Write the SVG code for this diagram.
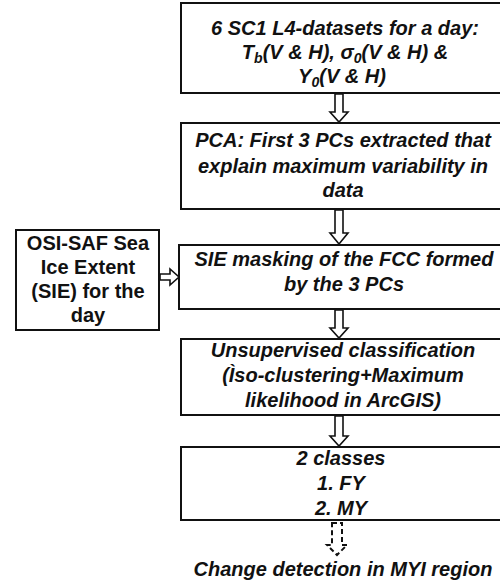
<svg xmlns="http://www.w3.org/2000/svg" width="500" height="582" viewBox="0 0 500 582">
<style>
.box{fill:#fff;stroke:#111;stroke-width:2}
.t{font-family:"Liberation Sans",Arial,sans-serif;font-weight:bold;font-style:italic;font-size:20px;fill:#111;text-anchor:middle}
.tl{font-family:"Liberation Sans",Arial,sans-serif;font-weight:bold;font-size:20px;fill:#111;text-anchor:middle}
.arr{fill:#fff;stroke:#111;stroke-width:1.6;stroke-linejoin:miter}
.dash{fill:#fff;stroke:#111;stroke-width:2;stroke-dasharray:5 3}
</style>
<rect width="500" height="582" fill="#fff"/>
<g id="connectors">
<polygon class="arr" points="335,94 343,94 343,112 348,112 339,122 330,112 335,112"/>
<polygon class="arr" points="335,210 343,210 343,233 348,233 339,244 330,233 335,233"/>
<polygon class="arr" points="335,310 343,310 343,328 348,328 339,338 330,328 335,328"/>
<polygon class="arr" points="335,416 343,416 343,436 348,436 339,446 330,436 335,436"/>
<polygon class="dash" points="332,523 342,523 342,545 347,545 337,555 327,545 332,545"/>
<polygon class="arr" points="160,274 170,274 170,269 179,277 170,285 170,280 160,280"/>
</g>
<g id="n1">
<rect class="box" x="181" y="3" width="330" height="90"/>
<text class="t" x="345" y="35">6 SC1 L4-datasets for a day:</text>
<text class="t" x="345" y="59">T<tspan font-size="14" dy="4">b</tspan><tspan dy="-4">(V &amp; H), σ</tspan><tspan font-size="14" dy="4">0</tspan><tspan dy="-4">(V &amp; H) &amp;</tspan></text>
<text class="t" x="342" y="83">Y<tspan font-size="14" dy="4">0</tspan><tspan dy="-4">(V &amp; H)</tspan></text>
</g>
<g id="n2">
<rect class="box" x="181" y="123" width="330" height="86"/>
<text class="t" x="343" y="147">PCA: First 3 PCs extracted that</text>
<text class="t" x="343" y="173">explain maximum variability in</text>
<text class="t" x="343" y="197">data</text>
</g>
<g id="n3">
<rect class="box" x="179" y="245" width="332" height="64"/>
<text class="t" x="344" y="266">SIE masking of the FCC formed</text>
<text class="t" x="344" y="291">by the 3 PCs</text>
</g>
<g id="n_left">
<rect class="box" x="16" y="230" width="143" height="100"/>
<text class="tl" x="88" y="250">OSI-SAF Sea</text>
<text class="tl" x="88" y="274">Ice Extent</text>
<text class="tl" x="88" y="298">(SIE) for the</text>
<text class="tl" x="88" y="322">day</text>
</g>
<g id="n4">
<rect class="box" x="181" y="339" width="330" height="76"/>
<text class="t" x="343" y="357">Unsupervised classification</text>
<text class="t" x="343" y="382">(Ìso-clustering+Maximum</text>
<text class="t" x="343" y="407">likelihood in ArcGIS)</text>
</g>
<g id="n5">
<rect class="box" x="181" y="447" width="330" height="73"/>
<text class="t" x="341" y="465">2 classes</text>
<text class="t" x="341" y="490">1. FY</text>
<text class="t" x="341" y="515">2. MY</text>
</g>
<g id="n6">
<text class="t" x="343" y="576" font-size="18.5">Change detection in MYI region</text>
</g>
</svg>
